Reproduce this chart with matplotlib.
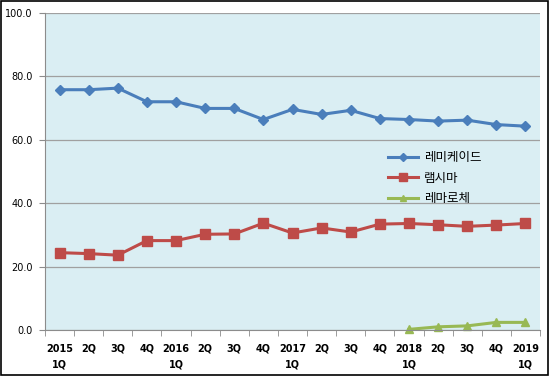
import matplotlib.pyplot as plt
from matplotlib.patches import Rectangle

quarters = ["2015\n1Q", "2Q", "3Q", "4Q", "2016\n1Q", "2Q", "3Q", "4Q", "2017\n1Q",
            "2Q", "3Q", "4Q", "2018\n1Q", "2Q", "3Q", "4Q", "2019\n1Q"]
remicade = [75.8, 75.8, 76.3, 72.0, 72.0, 69.9, 69.9, 66.4, 69.6, 68.0, 69.3, 66.7,
            66.4, 65.9, 66.2, 64.8, 64.3]
remsima = [24.4, 24.1, 23.6, 28.2, 28.2, 30.2, 30.3, 33.7, 30.6, 32.2, 30.9, 33.4,
           33.6, 33.2, 32.7, 33.1, 33.6]
remaloce_start = 12
remaloce = [0.2, 1.0, 1.3, 2.4, 2.4]
series_names = ["레미케이드", "램시마", "레마로체"]
yticks = [0, 20, 40, 60, 80, 100]

plt.rcParams['font.family'] = ['DejaVu Sans']

fig = plt.figure(figsize=(5.5, 3.76), dpi=100)
ax = fig.add_axes([45 / 550, 1 - 330 / 376, 495 / 550, 317 / 376])
ax.set_facecolor('#DAEEF3')

x = list(range(len(quarters)))
ax.plot(x, remicade, color='#4A7EBB', marker='D', markersize=5, linewidth=2.2,
        label=series_names[0])
ax.plot(x, remsima, color='#BE4B48', marker='s', markersize=7, linewidth=2.2,
        label=series_names[1])
xg = x[remaloce_start:remaloce_start + len(remaloce)]
ax.plot(xg, remaloce, color='#98B954', marker='^', markersize=6, linewidth=2.2,
        label=series_names[2], clip_on=False)

ax.set_xlim(-0.5, len(quarters) - 0.5)
ax.set_ylim(0, 100)
ax.set_yticks(yticks)
ax.set_yticklabels([f"{v:.1f}" for v in yticks], fontsize=7)
ax.yaxis.grid(True, color='#A0A0A0', linewidth=0.9)
ax.set_axisbelow(True)

ax.set_xticks(x)
ax.set_xticklabels(quarters, fontsize=7, fontweight='bold', linespacing=1.7)
ax.set_xticks([i - 0.5 for i in range(len(quarters) + 1)], minor=True)
ax.tick_params(axis='x', which='major', length=0, pad=10)
ax.tick_params(axis='x', which='minor', length=4, color='#8C8C8C')
ax.tick_params(axis='y', length=4, color='#8C8C8C', pad=5)

for s in ['top', 'right']:
    ax.spines[s].set_visible(False)
ax.spines['left'].set_color('#8C8C8C')
ax.spines['bottom'].set_color('#8C8C8C')

leg = ax.legend(loc='upper left', bbox_to_anchor=(0.67, 0.6), frameon=False,
                prop={'family': ['Noto Sans CJK KR', 'DejaVu Sans'], 'size': 9},
                handlelength=2.4, handletextpad=0.5, labelspacing=0.6, markerscale=0.8)

fig.patches.append(Rectangle((0.002, 0.003), 0.995, 0.994, transform=fig.transFigure,
                             fill=False, edgecolor='black', linewidth=1.2))

fig.savefig('out.png', dpi=100)
